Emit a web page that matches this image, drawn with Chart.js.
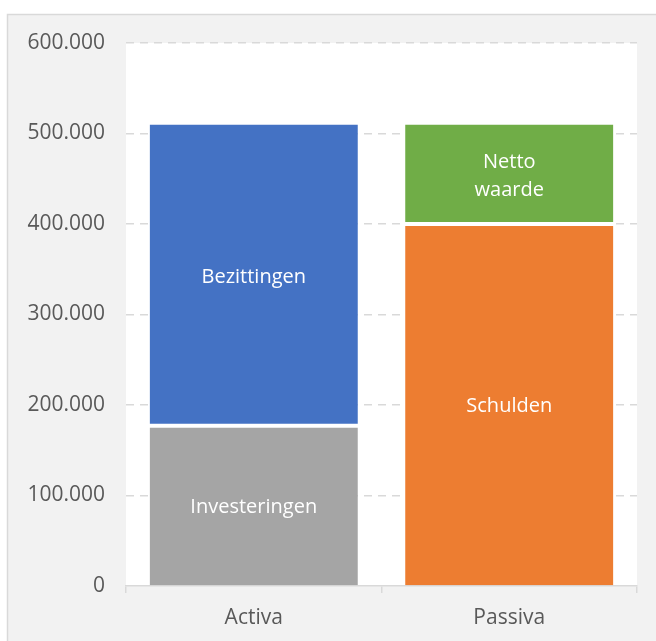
<!DOCTYPE html>
<html>
<head>
<meta charset="utf-8">
<script src="https://cdn.jsdelivr.net/npm/chart.js@4"></script>
<style>
	body { margin: 0; background: #fff; }
	canvas { display: block; }
</style>
</head>
<body>
<canvas id="balans" width="656" height="641"></canvas>
<script>
var categories = ['Activa', 'Passiva'];
var investeringen = [177000, null];
var bezittingen = [333000, null];
var schulden = [null, 400000];
var nettoWaarde = [null, 110000];
var yTicks = [0, 100000, 200000, 300000, 400000, 500000, 600000];

function puntjes(v) {
	return String(v).replace(/\B(?=(\d{3})+(?!\d))/g, '.');
}

// achtergrond: grijs kader + witte plotzone
var achtergrond = {
	id: 'achtergrond',
	beforeDraw: function (chart) {
		var c = chart.ctx, a = chart.chartArea;
		c.save();
		c.fillStyle = '#ffffff';
		c.fillRect(0, 0, chart.width, chart.height);
		c.fillStyle = '#f2f2f2';
		c.fillRect(7, 14, chart.width, chart.height);
		c.strokeStyle = '#d9d9d9';
		c.lineWidth = 1.5;
		c.strokeRect(7.5, 14.5, chart.width + 10, chart.height + 10);
		c.fillStyle = '#ffffff';
		c.fillRect(a.left, a.top, a.right - a.left, a.bottom - a.top);
		c.restore();
	}
};

// labels midden in de balken
var balkLabels = {
	id: 'balkLabels',
	afterDatasetsDraw: function (chart) {
		var c = chart.ctx;
		c.save();
		c.fillStyle = '#ffffff';
		c.font = '20px "Open Sans"';
		c.textAlign = 'center';
		c.textBaseline = 'middle';
		chart.data.datasets.forEach(function (ds, i) {
			var meta = chart.getDatasetMeta(i);
			meta.data.forEach(function (bar, j) {
				if (ds.data[j] == null) return;
				var lines = ds.label === 'Netto waarde' ? ds.label.split(' ') : [ds.label];
				var cy = (bar.y + bar.base) / 2 + 2;
				var lh = 28;
				lines.forEach(function (t, k) {
					c.fillText(t, bar.x, cy + (k - (lines.length - 1) / 2) * lh);
				});
			});
		});
		c.restore();
	}
};

var ctx = document.getElementById('balans').getContext('2d');
var chart = new Chart(ctx, {
	type: 'bar',
	data: {
		labels: categories,
		datasets: [
			{ label: 'Investeringen', data: investeringen, backgroundColor: '#a5a5a5', borderColor: '#ffffff', borderWidth: { top: 2, bottom: 0, left: 0, right: 0 } },
			{ label: 'Bezittingen', data: bezittingen, backgroundColor: '#4472c4', borderColor: '#ffffff', borderWidth: { top: 0, bottom: 2, left: 0, right: 0 } },
			{ label: 'Schulden', data: schulden, backgroundColor: '#ed7d31', borderColor: '#ffffff', borderWidth: { top: 2, bottom: 0, left: 0, right: 0 } },
			{ label: 'Netto waarde', data: nettoWaarde, backgroundColor: '#70ad47', borderColor: '#ffffff', borderWidth: { top: 0, bottom: 2, left: 0, right: 0 } }
		]
	},
	options: {
		responsive: false,
		animation: false,
		devicePixelRatio: 1,
		layout: { padding: { left: 0, right: 19, top: 43, bottom: 0 } },
		datasets: {
			bar: { barPercentage: 0.815, categoryPercentage: 1, borderSkipped: false, skipNull: false }
		},
		plugins: {
			legend: { display: false },
			tooltip: { enabled: false }
		},
		scales: {
			x: {
				stacked: true,
				grid: { display: true, offset: true, drawOnChartArea: false, drawTicks: true, tickLength: 7, color: '#d9d9d9', lineWidth: 1.5 },
				border: { display: true, color: '#d9d9d9', width: 1.5 },
				ticks: { color: '#595959', font: { family: 'Open Sans', size: 21 }, padding: 12 },
				afterFit: function (s) { s.height = 55; }
			},
			y: {
				stacked: true,
				min: 0,
				max: 600000,
				afterBuildTicks: function (s) { s.ticks = yTicks.map(function (v) { return { value: v }; }); },
				grid: {
					drawTicks: false,
					color: function (c) { return c.tick && c.tick.value === 0 ? 'rgba(0,0,0,0)' : '#d9d9d9'; },
					lineWidth: 1.5
				},
				border: { display: false, dash: [8, 6] },
				ticks: {
					color: '#595959',
					font: { family: 'Open Sans', size: 21 },
					padding: 21,
					callback: function (v) { return puntjes(v); }
				},
				afterFit: function (s) { s.width = 126; }
			}
		}
	},
	plugins: [achtergrond, balkLabels]
});
</script>
</body>
</html>
